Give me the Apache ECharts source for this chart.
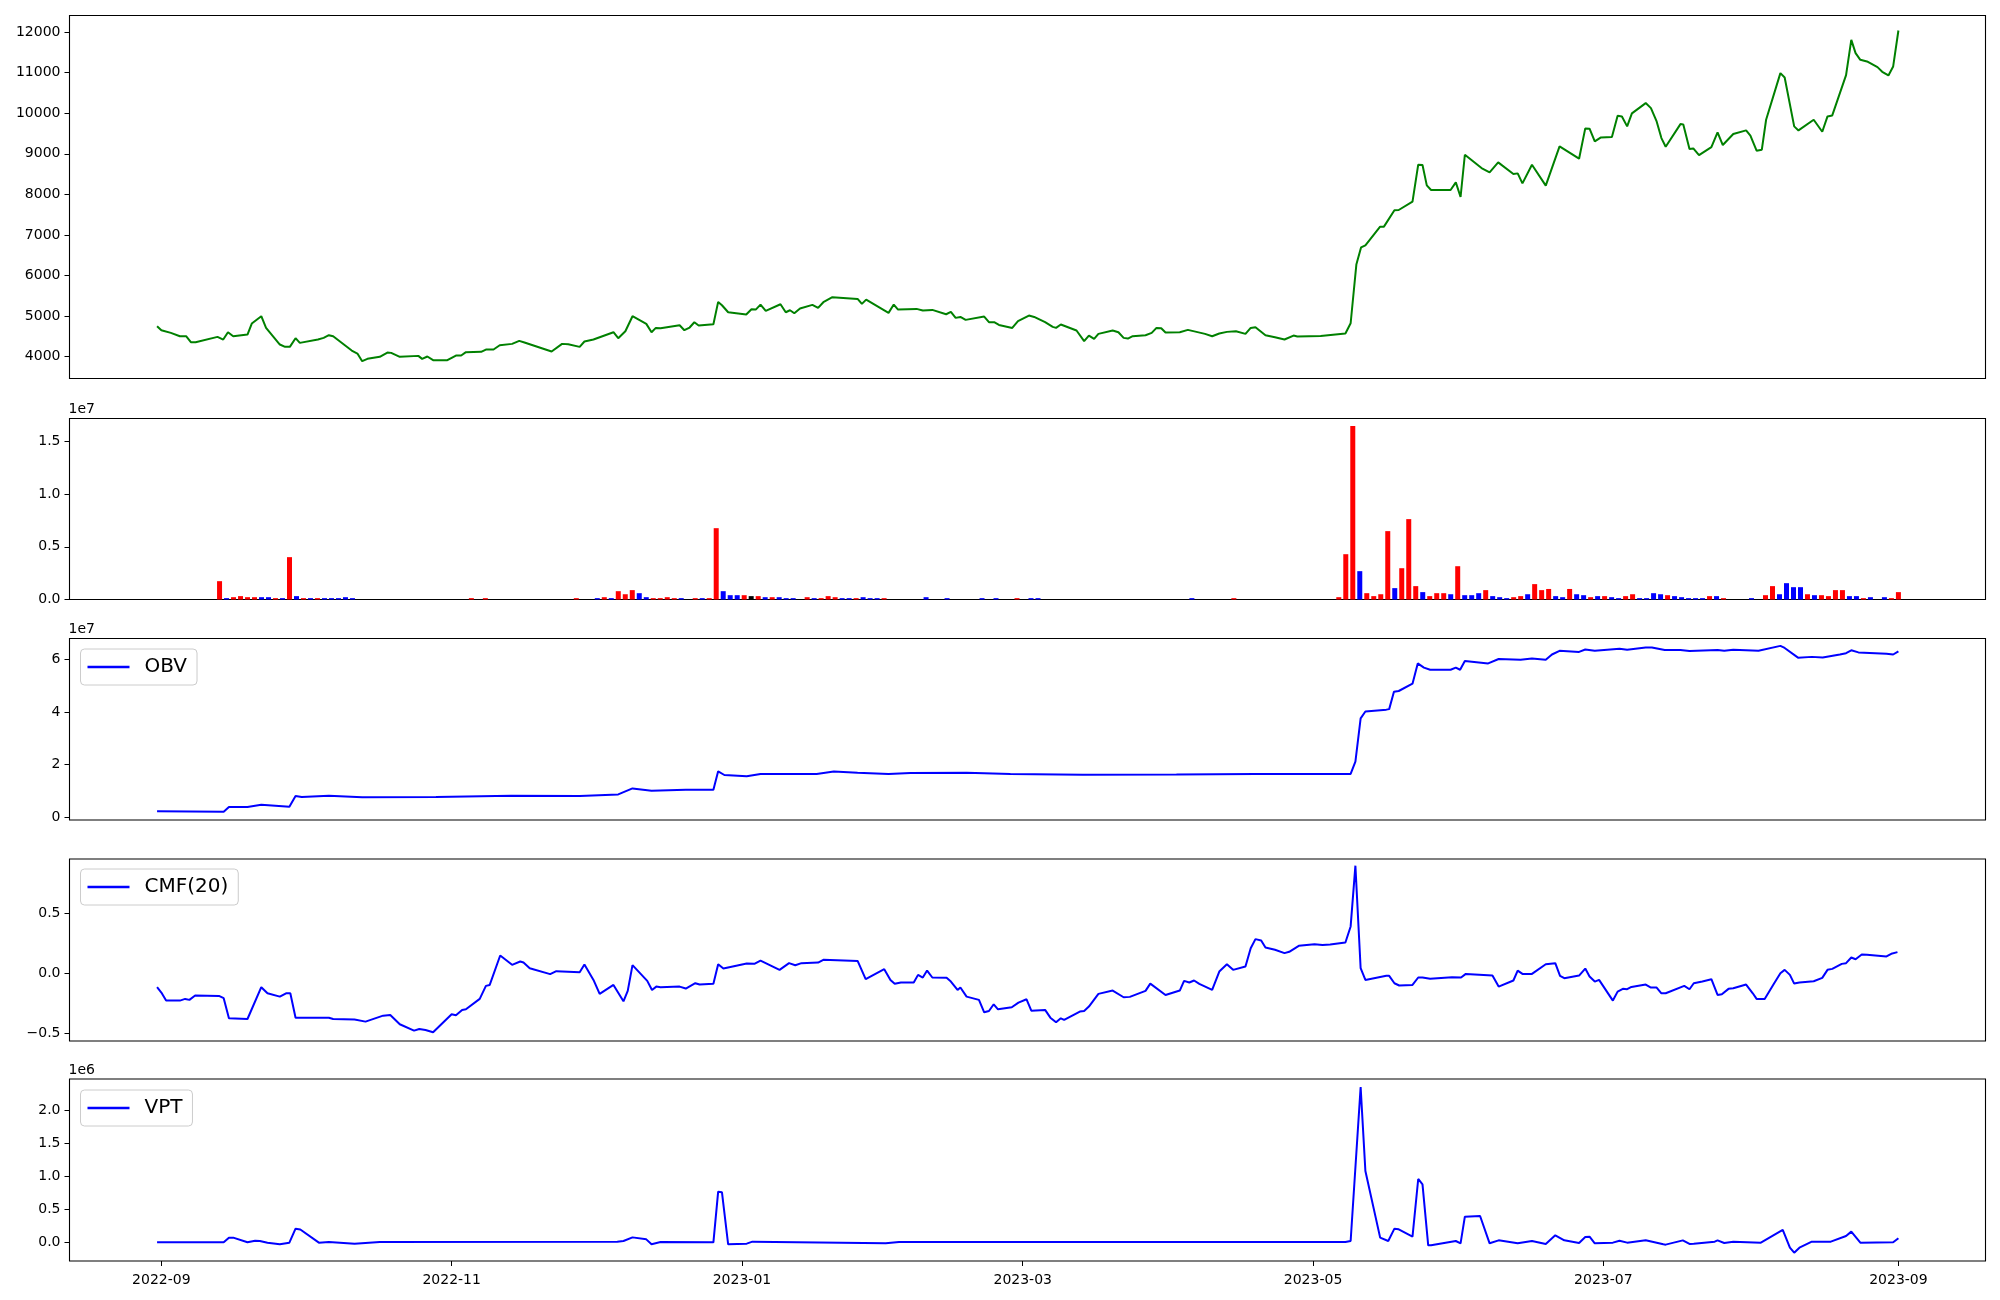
<!DOCTYPE html>
<html><head><meta charset="utf-8">
<script src="https://cdn.jsdelivr.net/npm/echarts@6/dist/echarts.min.js"></script>
<style>html,body{margin:0;padding:0;background:#fff}#c{width:2000px;height:1300px}</style>
</head><body><div id="c"></div>
<script>
// dates are stored as days since 2022-09-01
const BASE = Date.UTC(2022, 8, 1);
const DAY = 86400000;
const monthTicks = ['2022-09-01','2022-11-01','2023-01-01','2023-03-01','2023-05-01','2023-07-01','2023-09-01'];

const priceDay = [-0.9,0,2,3.9,5.2,6.2,7.2,11.8,13,14,15.1,18.1,19,21,22,24.9,26,27,28.2,29.1,32.9,34.1,35.2,36.1,40,41.2,42.2,43.3,45.9,47.5,48.3,50.1,54,54.8,55.9,57.1,60.1,61.9,63,64,67.2,68.2,69.8,71.1,73.7,75.2,76.3,82,84.2,85.5,87.9,88.9,90.8,95,96,97.5,99,101.9,103,103.9,104.9,108.9,109.9,111,112,112.9,116,117,117.8,119.1,122.9,124,124.9,125.9,127,130.1,131.2,132.1,133,134.2,136.8,138,139.1,141,146.3,147.2,148.1,152.8,153.9,154.8,158.7,160,162,164.9,165.9,166.9,167.9,169,172.9,173.9,175,176,178.8,180,182.3,183.4,185.7,187.3,188,189,192.3,193.9,194.9,196,196.9,199.9,201.1,202.2,203.1,204.1,206.8,208.1,209.1,210.1,211,214,215.7,219.3,220.8,222.3,223.9,225.8,227.8,228.9,229.9,232,234,236,237.9,238.7,243.6,248.8,249.9,251.1,252.1,253,256.1,256.9,259.1,260,262.9,264.1,265,265.9,266.8,270.9,272,273,273.9,277.4,279.1,280.9,284.1,285,286,288,290.9,293.8,297.9,299.2,300.1,301.2,302.5,304.8,306,306.9,308,309,311.9,313,314.2,315.2,316.1,319.2,319.8,321.1,321.9,323.1,325.7,327,328.1,330.3,333,333.9,335.2,336.3,337.2,340.2,341.1,343.1,344,347.2,349,350.1,351.1,354,355.1,356,357,358.4,360.6,361.6,362.9,363.9,365];
const priceVal = [4747,4649,4583,4501,4501,4353,4353,4485,4419,4600,4501,4542,4813,4994,4706,4296,4238,4238,4452,4337,4419,4460,4526,4501,4148,4074,3885,3943,3992,4099,4090,3992,4016,3943,4000,3910,3910,4025,4025,4107,4115,4172,4172,4279,4312,4386,4345,4123,4312,4304,4238,4370,4419,4600,4452,4624,4994,4805,4600,4706,4698,4772,4649,4715,4846,4764,4797,5347,5265,5092,5035,5166,5158,5281,5125,5290,5092,5142,5068,5183,5273,5199,5339,5462,5421,5298,5404,5076,5281,5158,5175,5134,5150,5043,5101,4953,4977,4904,4986,4846,4846,4780,4706,4871,5010,4977,4846,4731,4706,4789,4641,4378,4517,4435,4558,4641,4600,4460,4443,4501,4526,4583,4706,4698,4591,4600,4657,4558,4501,4567,4608,4624,4558,4706,4723,4526,4476,4419,4517,4493,4509,4567,4821,6267,6694,6743,7203,7203,7606,7614,7819,8731,8723,8222,8107,8107,8296,7934,8977,8649,8542,8788,8501,8517,8271,8731,8214,9183,8879,9626,9618,9306,9404,9413,9938,9922,9676,9996,10251,10127,9799,9388,9174,9733,9725,9117,9133,8969,9166,9528,9216,9487,9577,9446,9076,9101,9840,10990,10883,9676,9577,9840,9544,9922,9947,10940,11811,11483,11318,11277,11137,11022,10932,11154,12041];

// volume panel: bars on trading-day index 0..249 (values in units of 1e5), direction 1 up / -1 down / 0 flat
const VOL_COUNT = 250;
const VOL_UNIT = 1e5;
const volIdx = [9,10,11,12,13,14,15,16,17,18,19,20,21,22,23,24,25,26,27,28,45,47,60,63,64,65,66,67,68,69,70,71,72,73,74,75,77,78,79,80,81,82,83,84,85,86,87,88,89,90,91,93,94,95,96,97,98,99,100,101,102,103,104,110,113,118,120,123,125,126,148,154,169,170,171,172,173,174,175,176,177,178,179,180,181,182,183,184,185,186,187,188,189,190,191,192,193,194,195,196,197,198,199,200,201,202,203,204,205,206,207,208,209,210,211,212,213,214,215,216,217,218,219,220,221,222,223,224,228,230,231,232,233,234,235,236,237,238,239,240,241,242,243,244,245,247,248,249];
const volVal = [17.4,1.3,2.2,3.2,2.2,2.2,2.2,2.2,1.3,1.3,40.2,3.2,1.3,1.3,1.3,1.3,1.3,1.3,2.2,1.3,1.3,1.3,1.3,1.3,2.2,1.3,7.9,5.0,8.9,6.0,2.2,1.3,1.3,2.2,1.3,1.3,1.3,1.3,1.3,67.7,7.9,4.1,4.1,4.1,3.2,3.2,2.2,2.2,2.2,1.3,1.3,2.2,1.3,1.3,3.2,2.2,1.3,1.3,1.3,2.2,1.3,1.3,1.3,2.2,1.3,1.3,1.3,1.3,1.3,1.3,1.3,1.3,2.2,43,164.6,26.9,6.0,3.2,5.0,64.9,10.8,29.7,76.3,12.7,7.0,3.2,6.0,6.0,5.0,31.6,4.1,4.1,6.0,8.9,3.2,2.2,1.3,2.2,3.2,5.0,14.6,8.9,10,3.2,2.2,10,5.0,4.1,2.2,3.2,3.2,2.2,1.3,3.2,5.0,1.3,1.3,6.0,5.0,4.1,3.2,2.2,1.3,1.3,1.3,3.2,3.2,1.3,1.3,4.1,12.7,5.0,15.5,11.7,11.7,5.0,4.1,4.1,3.2,8.9,8.9,3.2,3.2,1.3,2.2,2.2,1.3,7.0];
const volDir = [1,-1,1,1,1,1,-1,-1,1,-1,1,-1,1,-1,1,-1,-1,-1,-1,-1,1,1,1,-1,1,-1,1,1,1,-1,-1,1,1,1,1,-1,1,-1,1,1,-1,-1,-1,1,0,1,-1,1,-1,-1,-1,1,-1,1,1,1,-1,-1,1,-1,-1,-1,1,-1,-1,-1,-1,1,-1,-1,-1,1,1,1,1,-1,1,1,1,1,-1,1,1,1,-1,1,1,1,-1,1,-1,-1,-1,1,-1,-1,-1,1,1,-1,1,1,1,-1,-1,1,-1,-1,1,-1,1,-1,-1,1,1,-1,-1,-1,-1,1,-1,-1,-1,-1,-1,1,-1,1,-1,1,1,-1,-1,-1,-1,1,-1,1,1,1,1,-1,-1,1,-1,-1,1,1];

const OBV_UNIT = 1e7;
const obvDay = [-0.9,13.1,14.2,18.1,21,26.9,28.2,29.5,35.2,42.2,57.7,73.5,87.9,96,99,103,110.2,116,117,118.3,123,125.9,137.7,141.3,146.3,152.8,157.4,169.2,178.4,193.6,213.3,229.8,249.9,250.9,252,253,257.4,258,259,260,262.9,264,265.3,266.6,270.9,272,272.9,273.9,278.8,281,285.6,288,290.9,292.2,293.8,297.9,299.2,301.2,306.4,308,311.9,313.2,315.9,319.2,321.1,327,328.4,330.3,335.6,340.2,341.1,343.9,346.8,349.1,352.7,354,355.1,356.6,362.5,363.9,365];
const obvVal = [0.216,0.20,0.38,0.38,0.47,0.39,0.80,0.76,0.81,0.75,0.76,0.81,0.80,0.86,1.09,1.00,1.04,1.04,1.74,1.60,1.55,1.64,1.64,1.73,1.69,1.64,1.68,1.69,1.64,1.61,1.62,1.64,1.64,2.11,3.76,4.02,4.09,4.11,4.77,4.80,5.08,5.85,5.69,5.61,5.61,5.69,5.61,5.94,5.85,6.02,5.99,6.04,5.99,6.19,6.33,6.29,6.38,6.33,6.41,6.37,6.46,6.46,6.36,6.36,6.32,6.36,6.33,6.37,6.33,6.52,6.44,6.07,6.10,6.08,6.19,6.24,6.35,6.27,6.22,6.19,6.31];

const cmfDay = [-0.9,0,1,3.9,5,5.9,7.1,12.1,13.1,14.2,18.1,21,22.3,24.9,26.2,27.1,28.2,35.2,36.1,40.6,42.9,46.6,48.1,50.1,53.1,54.2,55.5,57.1,61,61.9,63.2,64,66.9,68.2,69,71.2,73.7,75.4,76.1,77.4,81.7,83,87.9,88.9,90.8,92.1,95,97.1,98,99,102.1,103.1,104,104.9,108.9,110.2,112.2,113.1,116,117,118.1,123,124.6,125.9,129.9,131.9,133.2,134.5,138,139.1,146.3,148,151.9,153.2,154.1,155.4,158.1,159,160,160.9,162,165,165.9,167.3,167.9,169.2,171.8,172.9,173.9,174.9,175.8,178.7,180.1,181.8,182.8,185.7,186.8,188,189,189.7,193,193.9,194.9,196.9,199.9,202.2,203.5,206.8,207.8,211,214,214.9,216,217,218.1,220.8,222.3,223.9,225.2,227.8,228.9,229.9,231.1,232,234,236,237,239,242.3,244,245.6,248.8,249.9,250.9,252,253,257.4,258,259.1,260.1,262.9,264.1,265,266.6,271.2,273.1,274.1,279.7,281,284.1,285,286,288,290.9,292.9,293.9,294.8,297.9,299.2,300.1,301.2,302.1,305,306,307.1,308,308.9,311.9,313,314.2,315.2,316.1,320,321.1,322,323.8,325.7,327,327.9,329.3,330.3,333,334.4,335.2,336.9,338.9,340.2,341.1,342.2,343.1,344.2,347.2,349,350.1,351.1,353.1,354,355.1,356,357.3,358.4,362.5,363.5,364.8];
const cmfVal = [-0.117,-0.162,-0.229,-0.229,-0.215,-0.223,-0.187,-0.190,-0.209,-0.377,-0.383,-0.117,-0.168,-0.196,-0.168,-0.168,-0.372,-0.372,-0.383,-0.388,-0.405,-0.355,-0.349,-0.427,-0.480,-0.466,-0.475,-0.494,-0.344,-0.352,-0.307,-0.302,-0.215,-0.106,-0.098,0.148,0.070,0.098,0.089,0.042,-0.008,0.017,0.008,0.073,-0.056,-0.173,-0.098,-0.235,-0.148,0.067,-0.064,-0.140,-0.112,-0.117,-0.112,-0.128,-0.084,-0.095,-0.089,0.075,0.039,0.081,0.078,0.106,0.028,0.084,0.067,0.084,0.089,0.112,0.103,-0.050,0.034,-0.056,-0.089,-0.078,-0.078,-0.014,-0.036,0.022,-0.036,-0.039,-0.070,-0.140,-0.120,-0.196,-0.223,-0.327,-0.316,-0.260,-0.302,-0.285,-0.246,-0.218,-0.313,-0.307,-0.372,-0.411,-0.377,-0.391,-0.321,-0.316,-0.279,-0.173,-0.145,-0.201,-0.198,-0.148,-0.087,-0.182,-0.145,-0.064,-0.078,-0.061,-0.089,-0.140,0.014,0.075,0.028,0.056,0.209,0.285,0.274,0.215,0.196,0.168,0.179,0.229,0.243,0.235,0.240,0.257,0.391,0.899,0.042,-0.056,-0.022,-0.022,-0.084,-0.103,-0.098,-0.036,-0.036,-0.047,-0.034,-0.036,-0.006,-0.020,-0.112,-0.061,0.022,-0.006,-0.006,0.075,0.084,-0.022,-0.042,-0.020,0.039,-0.028,-0.070,-0.056,-0.229,-0.154,-0.131,-0.134,-0.115,-0.095,-0.120,-0.120,-0.168,-0.168,-0.106,-0.134,-0.084,-0.070,-0.050,-0.182,-0.176,-0.131,-0.126,-0.095,-0.168,-0.215,-0.215,-0.084,0.000,0.028,-0.014,-0.087,-0.078,-0.067,-0.039,0.028,0.036,0.078,0.084,0.131,0.117,0.156,0.154,0.140,0.162,0.176];

const VPT_UNIT = 1e6;
const vptDay = [-0.9,13.1,14.2,15.1,18.1,19.7,20.7,22.3,24.9,26.9,28.2,29.2,33.1,35.2,40.6,45.9,95.8,97.1,99,101.9,103,104.9,116,117,117.8,119.1,123,124.2,152.2,155,229.8,248.8,249.9,252,253,256.1,257.8,259.1,260,262.9,264.1,265,266.2,266.8,272,273,273.9,277.1,279.1,281,285,288,290.9,292.9,294.8,297.9,299.2,300.1,301.2,305,306.4,308,311.9,315.6,316.1,319.7,321.1,322,326.4,327,328.4,330.3,336.1,340.7,341.1,342.2,343.1,344.2,346.8,350.8,354,355.1,357,363.9,365];
const vptVal = [0.005,0.005,0.076,0.076,0.005,0.030,0.025,0.000,-0.025,0.000,0.212,0.200,0.000,0.010,-0.015,0.010,0.015,0.025,0.080,0.050,-0.025,0.010,0.005,0.773,0.763,-0.025,-0.015,0.015,-0.010,0.010,0.010,0.010,0.025,2.359,1.086,0.076,0.025,0.212,0.202,0.091,0.965,0.884,-0.040,-0.040,0.025,-0.010,0.394,0.404,-0.010,0.035,-0.010,0.025,-0.020,0.111,0.035,-0.005,0.086,0.091,-0.010,0.000,0.030,0.000,0.035,-0.025,-0.030,0.035,-0.020,-0.015,0.015,0.035,-0.005,0.015,0.000,0.192,0.167,-0.076,-0.152,-0.076,0.015,0.015,0.101,0.167,0.000,0.005,0.066];

// ---- build ----
function pts(days, vals, unit) { return days.map((d, i) => [BASE + d * DAY, vals[i] * (unit || 1)]); }
const firstDay = -1, lastDay = 365, pad = 0.05 * (lastDay - firstDay);
const xMin = BASE + (firstDay - pad) * DAY, xMax = BASE + (lastDay + pad) * DAY;
const tickTimes = monthTicks.map(s => Date.parse(s));
const FONT = 'DejaVu Sans';

const grids = [
  {left: 69.5, width: 1916, top: 15.5, height: 363},
  {left: 69.5, width: 1916, top: 418.5, height: 181},
  {left: 69.5, width: 1916, top: 638.5, height: 181.5},
  {left: 69.5, width: 1916, top: 859, height: 182},
  {left: 69.5, width: 1916, top: 1079, height: 182}
].map(g => Object.assign(g, {show: true, borderColor: '#000', borderWidth: 1.1, backgroundColor: 'transparent', containLabel: false}));

function xAxisFor(i) {
  if (i === 1) {
    const vp = 0.05 * (VOL_COUNT - 1);
    return {type: 'value', gridIndex: 1, min: -vp, max: VOL_COUNT - 1 + vp, show: true, position: 'bottom',
      axisLine: {show: false, onZero: false}, axisTick: {show: false}, axisLabel: {show: false}, splitLine: {show: false}};
  }
  const bottom = i === 4;
  return {type: 'value', gridIndex: i, min: xMin, max: xMax, position: 'bottom',
    axisLine: {show: false, onZero: false}, splitLine: {show: false},
    axisTick: {show: bottom, customValues: tickTimes, length: 5, lineStyle: {color: '#000', width: 1}},
    axisLabel: {show: bottom, customValues: tickTimes, margin: 12, fontSize: 14, fontFamily: FONT, color: '#000',
      formatter: v => { const d = new Date(v); return d.getUTCFullYear() + '-' + String(d.getUTCMonth() + 1).padStart(2, '0'); }}};
}
function yAxisFor(i, min, max, ticks, fmt, name) {
  return {type: 'value', gridIndex: i, min: min, max: max, position: 'left',
    name: name || '', nameLocation: 'end', nameGap: 2,
    nameTextStyle: {align: 'left', verticalAlign: 'bottom', fontSize: 14, fontFamily: FONT, color: '#000', padding: [0, 0, 0, -1]},
    axisLine: {show: false, onZero: false}, splitLine: {show: false},
    axisTick: {show: true, customValues: ticks, length: 5, lineStyle: {color: '#000', width: 1}},
    axisLabel: {customValues: ticks, margin: 9, fontSize: 14, fontFamily: FONT, color: '#000', formatter: fmt}};
}
const minus = s => s.replace('-', '\u2212');

const volData = volIdx.map((x, i) => ({
  value: [x, volVal[i] * VOL_UNIT],
  itemStyle: {color: volDir[i] > 0 ? '#ff0000' : (volDir[i] < 0 ? '#0000ff' : '#000000')}
}));

function legendAt(name, top) {
  return {data: [name], left: 80.5, top: top, orient: 'horizontal', icon: 'rect', itemWidth: 42, itemHeight: 2.5,
    padding: [8, 10, 8, 7], backgroundColor: 'rgba(255,255,255,0.8)', borderColor: '#cccccc', borderWidth: 1, borderRadius: 4,
    textStyle: {fontSize: 20, fontFamily: FONT, color: '#000', padding: [0, 0, 0, 10]}, selectedMode: false};
}
function blueLine(name, xi, data) {
  return {name: name, type: 'line', xAxisIndex: xi, yAxisIndex: xi, data: data, symbol: 'none', showSymbol: false,
    color: '#0000ff', lineStyle: {color: '#0000ff', width: 2}, itemStyle: {color: '#0000ff'}};
}

const option = {
  animation: false,
  backgroundColor: '#ffffff',
  grid: grids,
  xAxis: [0, 1, 2, 3, 4].map(xAxisFor),
  yAxis: [
    yAxisFor(0, 3458, 12411, [4000,5000,6000,7000,8000,9000,10000,11000,12000], v => String(v)),
    yAxisFor(1, 0, 1.718e7, [0, 5e6, 1e7, 1.5e7], v => (v / 1e7).toFixed(1), '1e7'),
    yAxisFor(2, -0.114e7, 6.80e7, [0, 2e7, 4e7, 6e7], v => String(Math.round(v / 1e7)), '1e7'),
    yAxisFor(3, -0.567, 0.955, [-0.5, 0, 0.5], v => minus(v.toFixed(1))),
    yAxisFor(4, -0.278e6, 2.48e6, [0, 5e5, 1e6, 1.5e6, 2e6], v => (v / 1e6).toFixed(1), '1e6')
  ],
  legend: [legendAt('OBV', 649), legendAt('CMF(20)', 869), legendAt('VPT', 1090)],
  series: [
    {name: 'Close', type: 'line', xAxisIndex: 0, yAxisIndex: 0, data: pts(priceDay, priceVal), symbol: 'none', showSymbol: false,
      lineStyle: {color: '#008000', width: 2}, itemStyle: {color: '#008000'}},
    {name: 'Volume', type: 'bar', xAxisIndex: 1, yAxisIndex: 1, data: volData, barWidth: 5},
    blueLine('OBV', 2, pts(obvDay, obvVal, OBV_UNIT)),
    blueLine('CMF(20)', 3, pts(cmfDay, cmfVal)),
    blueLine('VPT', 4, pts(vptDay, vptVal, VPT_UNIT))
  ]
};
const chart = echarts.init(document.getElementById('c'), null, {renderer: 'canvas'});
chart.setOption(option);
</script>
</body></html>
